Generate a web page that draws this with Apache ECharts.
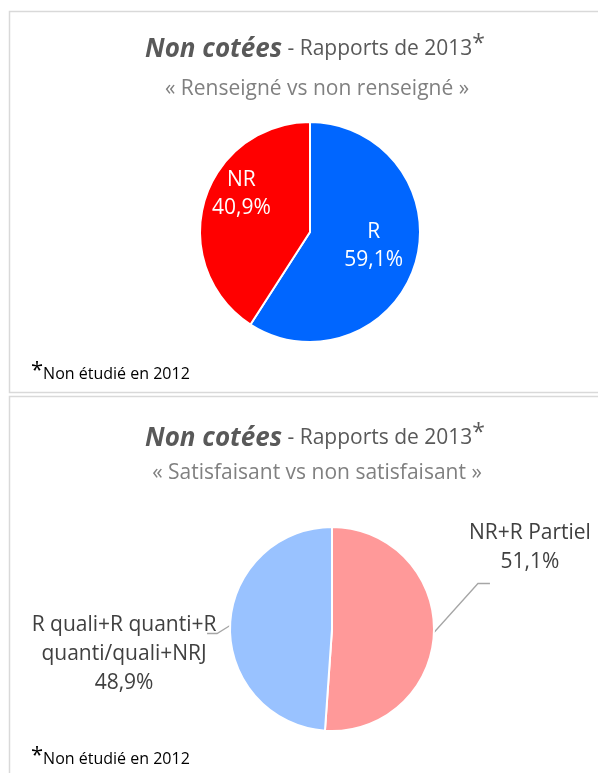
<!DOCTYPE html>
<html>
<head>
<meta charset="utf-8">
<script src="https://cdn.jsdelivr.net/npm/echarts@6/dist/echarts.min.js"></script>
<style>
  html, body { margin: 0; padding: 0; background: #fff; }
  #chart { width: 598px; height: 773px; }
</style>
</head>
<body>
<div id="chart"></div>
<script>
// chart 1 : renseigne / non renseigne
const topNames = ['R', 'NR'];
const topValues = [59.1, 40.9];
const topColors = ['#0066ff', '#ff0000'];

// chart 2 : satisfaisant / non satisfaisant
const bottomNames = ['NR+R Partiel', 'R quali+R quanti+R\nquanti/quali+NRJ'];
const bottomValues = [51.1, 48.9];
const bottomColors = ['#ff9999', '#99c2ff'];

const titleMain = 'Non cotées';
const titleRest = ' - Rapports de 2013';
const subTop = '« Renseigné vs non renseigné »';
const subBottom = '« Satisfaisant vs non satisfaisant »';
const footnote = 'Non étudié en 2012';

const font = '"Open Sans", sans-serif';

function pct(v) {
    return v.toFixed(1).replace('.', ',') + '%';
}

const titleRich = {
    a: { fontFamily: font, fontSize: 26, fontWeight: 'bold', fontStyle: 'italic', color: '#595959' },
    b: { fontFamily: font, fontSize: 21, fontWeight: 'normal', color: '#595959' },
    c: { fontFamily: font, fontSize: 23, fontWeight: 'normal', color: '#595959', padding: [0, 0, 10, 0] }
};
const noteRich = {
    s: { fontFamily: font, fontSize: 22, fontWeight: 'normal', color: '#000', padding: [0, 0, 6, 0] },
    t: { fontFamily: font, fontSize: 16, fontWeight: 'normal', color: '#000' }
};
const subStyle = { fontFamily: font, fontSize: 21, fontWeight: 'normal', color: '#808080' };

const myChart = echarts.init(document.getElementById('chart'));

let option = {
    backgroundColor: '#fff',
    animation: false,
    graphic: [
        {
            type: 'rect',
            shape: { x: 9.5, y: 11.5, width: 600, height: 381 },
            style: { fill: 'none', stroke: '#d9d9d9', lineWidth: 1.5 }
        },
        {
            type: 'rect',
            shape: { x: 9.5, y: 396.5, width: 600, height: 400 },
            style: { fill: 'none', stroke: '#d9d9d9', lineWidth: 1.5 }
        }
    ],
    title: [
        {
            text: '{a|' + titleMain + '}{b|' + titleRest + '}{c|*}',
            left: 310, top: 28, textAlign: 'center',
            textStyle: { rich: titleRich }
        },
        {
            text: subTop,
            left: 312, top: 74, textAlign: 'center',
            textStyle: subStyle
        },
        {
            text: '{s|*}{t|' + footnote + '}',
            left: 26, top: 355,
            textStyle: { rich: noteRich }
        },
        {
            text: '{a|' + titleMain + '}{b|' + titleRest + '}{c|*}',
            left: 310, top: 417, textAlign: 'center',
            textStyle: { rich: titleRich }
        },
        {
            text: subBottom,
            left: 312, top: 458, textAlign: 'center',
            textStyle: subStyle
        },
        {
            text: '{s|*}{t|' + footnote + '}',
            left: 26, top: 740,
            textStyle: { rich: noteRich }
        }
    ],
    series: [
        {
            type: 'pie',
            center: [310, 232],
            radius: 110,
            startAngle: 90,
            clockwise: true,
            itemStyle: { borderColor: '#fff', borderWidth: 2 },
            label: {
                position: 'inside',
                color: '#fff',
                fontFamily: font,
                fontSize: 21,
                lineHeight: 28,
                formatter: p => p.name + '\n' + pct(p.value)
            },
            labelLine: { show: false },
            data: topNames.map((n, i) => ({
                name: n,
                value: topValues[i],
                itemStyle: { color: topColors[i] },
                label: { offset: i === 0 ? [8, -2] : [-13, -22] }
            }))
        },
        {
            type: 'pie',
            center: [332, 629],
            radius: 102,
            startAngle: 90,
            clockwise: true,
            itemStyle: { borderColor: '#fff', borderWidth: 2 },
            label: {
                position: 'outside',
                color: '#404040',
                fontFamily: font,
                fontSize: 21,
                lineHeight: 29,
                formatter: p => p.name + '\n' + pct(p.value)
            },
            labelLine: {
                show: true,
                length: 12,
                length2: 12,
                lineStyle: { color: '#a6a6a6', width: 1.3 }
            },
            // move the labels like in the excel chart, leader line bent under the text
            labelLayout: function (params) {
                const a = params.labelLinePoints[0];
                const right = params.dataIndex === 0;
                const cx = right ? a[0] + 96 : a[0] - 106;
                const cy = right ? a[1] - 85 : a[1] + 29;
                const end = right ? [cx - 40, cy + 36] : [cx + 83, cy - 21];
                const mid = right ? [end[0] - 12, end[1]] : [end[0] + 10, end[1]];
                return {
                    x: cx,
                    y: cy,
                    align: 'center',
                    verticalAlign: 'middle',
                    labelLinePoints: [a, mid, end]
                };
            },
            data: bottomNames.map((n, i) => ({
                name: n,
                value: bottomValues[i],
                itemStyle: { color: bottomColors[i] }
            }))
        }
    ]
};

myChart.setOption(option);
window.addEventListener('resize', () => myChart.resize(), false);
</script>
</body>
</html>
